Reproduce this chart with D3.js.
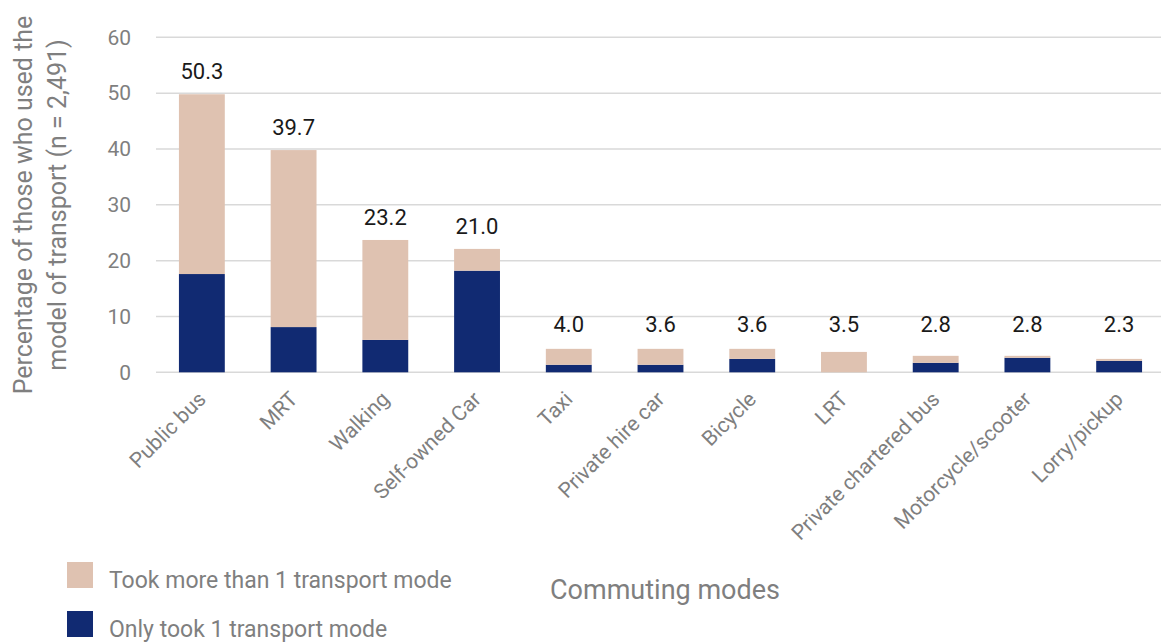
<!DOCTYPE html>
<html>
<head>
<meta charset="utf-8">
<script src="https://cdn.jsdelivr.net/npm/d3@7"></script>
<style>
  html, body { margin: 0; padding: 0; background: #ffffff; }
  svg { display: block; font-family: Roboto, "Liberation Sans", sans-serif; }
</style>
</head>
<body>
<svg id="chart" width="1161" height="642"></svg>
<script>
const categories = ["Public bus", "MRT", "Walking", "Self-owned Car", "Taxi", "Private hire car", "Bicycle", "LRT", "Private chartered bus", "Motorcycle/scooter", "Lorry/pickup"];
const onlyOne = [17.6, 8.1, 5.8, 18.2, 1.35, 1.35, 2.4, 0, 1.7, 2.6, 2.05];
const moreThanOne = [32.2, 31.7, 17.9, 3.9, 2.85, 2.85, 1.8, 3.65, 1.25, 0.35, 0.35];
const totalLabels = ["50.3", "39.7", "23.2", "21.0", "4.0", "3.6", "3.6", "3.5", "2.8", "2.8", "2.3"];
const yTicks = [0, 10, 20, 30, 40, 50, 60];
const seriesNames = ["Took more than 1 transport mode", "Only took 1 transport mode"];
const seriesColors = ["#dfc2b1", "#112a72"];

const svg = d3.select("#chart");
const plotLeft = 156, plotRight = 1165, yTop = 37.3, yBottom = 372.3;

const x = d3.scaleBand().domain(categories).range([plotLeft, plotRight]).paddingInner(0.5).paddingOuter(0.25);
const y = d3.scaleLinear().domain([0, 60]).range([yBottom, yTop]);

// gridlines
svg.append("g").selectAll("line").data(yTicks).join("line")
  .attr("x1", plotLeft).attr("x2", 1161)
  .attr("y1", d => y(d)).attr("y2", d => y(d))
  .attr("stroke", "#d9d9d9").attr("stroke-width", 1.5);

// y axis labels
const yAxis = d3.axisLeft(y).tickValues(yTicks).tickSize(0).tickPadding(0).tickFormat(d3.format("d"));
const ya = svg.append("g").attr("transform", "translate(131,0)").call(yAxis);
ya.select(".domain").remove();
ya.selectAll("text").attr("fill", "#7f7f7f").style("font-size", "21px").style("font-family", "Roboto");

// stacked data
const rows = categories.map((c, i) => ({ cat: c, only: onlyOne[i], more: moreThanOne[i], label: totalLabels[i] }));
const stack = d3.stack().keys(["only", "more"]);
const stacked = stack(rows);
const colorByKey = { only: seriesColors[1], more: seriesColors[0] };

svg.append("g").selectAll("g").data(stacked).join("g")
  .attr("fill", d => colorByKey[d.key])
  .selectAll("rect").data(d => d).join("rect")
  .attr("x", d => x(d.data.cat))
  .attr("width", x.bandwidth())
  .attr("y", d => y(d[1]))
  .attr("height", d => Math.max(0, y(d[0]) - y(d[1])));

// total labels
svg.append("g").selectAll("text").data(rows).join("text")
  .attr("x", d => x(d.cat) + x.bandwidth() / 2)
  .attr("y", d => y(Math.max(d.only + d.more, 4.5)) - 23 + 8)
  .attr("text-anchor", "middle")
  .attr("fill", "#1a1a1a")
  .style("font-size", "22px")
  .text(d => d.label);

// x axis category labels
const xAxis = d3.axisBottom(x).tickSize(0).tickPadding(0);
const xa = svg.append("g").attr("transform", `translate(0,${yBottom})`).call(xAxis);
xa.select(".domain").remove();
xa.selectAll(".tick text")
  .attr("fill", "#7f7f7f")
  .style("font-size", "21px")
  .style("font-family", "Roboto")
  .attr("text-anchor", "end")
  .attr("x", 0).attr("y", 0).attr("dy", "0.35em")
  .attr("transform", "translate(0,23) rotate(-45)");

// y axis title
const yTitle = svg.append("text")
  .attr("transform", "translate(0,205) rotate(-90)")
  .attr("text-anchor", "middle")
  .attr("fill", "#7f7f7f")
  .style("font-size", "25px");
yTitle.append("tspan").attr("x", 0).attr("y", 32).text("Percentage of those who used the");
yTitle.append("tspan").attr("x", 0).attr("y", 66).text("model of transport (n = 2,491)");

// x axis title
svg.append("text")
  .attr("x", 665).attr("y", 599)
  .attr("text-anchor", "middle")
  .attr("fill", "#7f7f7f")
  .style("font-size", "27px")
  .text("Commuting modes");

// legend
const legend = svg.append("g").selectAll("g").data(seriesNames).join("g")
  .attr("transform", (d, i) => `translate(67,${562 + i * 49})`);
legend.append("rect").attr("width", 26).attr("height", 26).attr("fill", (d, i) => seriesColors[i]);
legend.append("text").attr("x", 42).attr("y", 26)
  .attr("fill", "#7f7f7f").style("font-size", "23px")
  .text(d => d);
</script>
</body>
</html>
